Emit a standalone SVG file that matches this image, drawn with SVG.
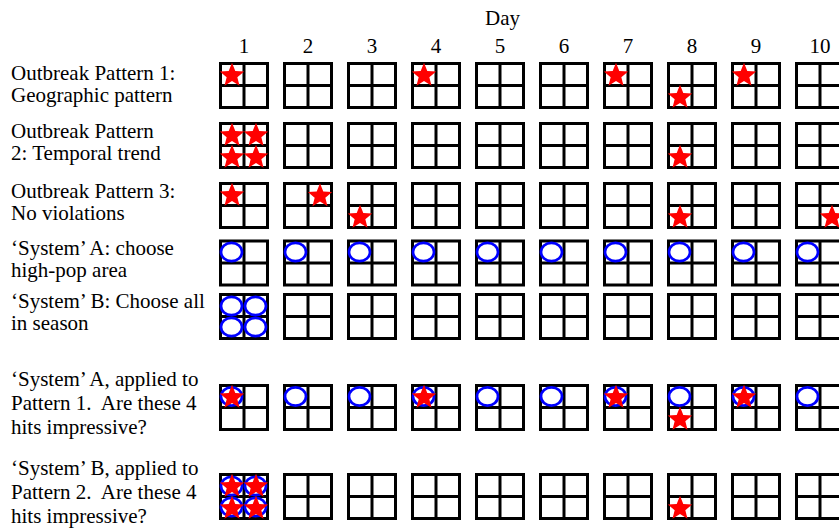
<svg xmlns="http://www.w3.org/2000/svg" xmlns:xlink="http://www.w3.org/1999/xlink" width="839" height="532" viewBox="0 0 839 532">
<style>
text{font-family:"Liberation Serif","Times New Roman",serif;font-size:21px;fill:#000}
.num{text-anchor:middle}
.g{fill:#fff;stroke:#000;stroke-width:3}
.gl{stroke:#000;stroke-width:3}
.star{fill:#f00;stroke:none}
.circ{fill:none;stroke:#00f;stroke-width:2.7}
</style>
<defs>
<g id="grid"><rect class="g" x="0" y="0" width="47" height="44"/><line class="gl" x1="23.5" y1="0" x2="23.5" y2="44"/><line class="gl" x1="0" y1="22" x2="47" y2="22"/></g>
<path id="star" class="star" d="M0,-12.8 L3.29,-4.53 L12.17,-3.96 L5.33,1.73 L7.52,10.36 L0,5.6 L-7.52,10.36 L-5.33,1.73 L-12.17,-3.96 L-3.29,-4.53 Z"/>
<ellipse id="circ" class="circ" cx="0" cy="0" rx="10.5" ry="9.2"/>
</defs>
<rect width="839" height="532" fill="#fff"/>
<g id="header">
<text class="num" x="502.5" y="25">Day</text>
<text class="num" x="244" y="53">1</text>
<text class="num" x="308" y="53">2</text>
<text class="num" x="372" y="53">3</text>
<text class="num" x="436" y="53">4</text>
<text class="num" x="500" y="53">5</text>
<text class="num" x="564" y="53">6</text>
<text class="num" x="628" y="53">7</text>
<text class="num" x="692" y="53">8</text>
<text class="num" x="756" y="53">9</text>
<text class="num" x="820" y="53">10</text>
</g>
<g id="labels">
<text x="11" y="80">Outbreak Pattern 1:</text>
<text x="11" y="102">Geographic pattern</text>
<text x="11" y="138">Outbreak Pattern</text>
<text x="11" y="160">2: Temporal trend</text>
<text x="11" y="198">Outbreak Pattern 3:</text>
<text x="11" y="220">No violations</text>
<text x="11" y="255">‘System’ A: choose</text>
<text x="11" y="277">high-pop area</text>
<text x="11" y="308">‘System’ B: Choose all</text>
<text x="11" y="330">in season</text>
<text x="11" y="386">‘System’ A, applied to</text>
<text x="11" y="410" xml:space="preserve">Pattern 1.  Are these 4</text>
<text x="11" y="434">hits impressive?</text>
<text x="11" y="475">‘System’ B, applied to</text>
<text x="11" y="499" xml:space="preserve">Pattern 2.  Are these 4</text>
<text x="11" y="523">hits impressive?</text>
</g>
<g id="connectors"></g>
<g id="row1">
<use xlink:href="#grid" x="220.5" y="63.5"/><use xlink:href="#grid" x="284.5" y="63.5"/><use xlink:href="#grid" x="348.5" y="63.5"/><use xlink:href="#grid" x="412.5" y="63.5"/><use xlink:href="#grid" x="476.5" y="63.5"/><use xlink:href="#grid" x="540.5" y="63.5"/><use xlink:href="#grid" x="604.5" y="63.5"/><use xlink:href="#grid" x="668.5" y="63.5"/><use xlink:href="#grid" x="732.5" y="63.5"/><use xlink:href="#grid" x="796.5" y="63.5"/>
<use xlink:href="#star" x="232" y="75.5"/><use xlink:href="#star" x="424" y="75.5"/><use xlink:href="#star" x="616" y="75.5"/><use xlink:href="#star" x="680" y="97.5"/><use xlink:href="#star" x="744" y="75.5"/>
</g>
<g id="row2">
<use xlink:href="#grid" x="220.5" y="123.5"/><use xlink:href="#grid" x="284.5" y="123.5"/><use xlink:href="#grid" x="348.5" y="123.5"/><use xlink:href="#grid" x="412.5" y="123.5"/><use xlink:href="#grid" x="476.5" y="123.5"/><use xlink:href="#grid" x="540.5" y="123.5"/><use xlink:href="#grid" x="604.5" y="123.5"/><use xlink:href="#grid" x="668.5" y="123.5"/><use xlink:href="#grid" x="732.5" y="123.5"/><use xlink:href="#grid" x="796.5" y="123.5"/>
<use xlink:href="#star" x="232" y="135.5"/><use xlink:href="#star" x="256" y="135.5"/><use xlink:href="#star" x="232" y="157.5"/><use xlink:href="#star" x="256" y="157.5"/><use xlink:href="#star" x="680" y="157.5"/>
</g>
<g id="row3">
<use xlink:href="#grid" x="220.5" y="183.5"/><use xlink:href="#grid" x="284.5" y="183.5"/><use xlink:href="#grid" x="348.5" y="183.5"/><use xlink:href="#grid" x="412.5" y="183.5"/><use xlink:href="#grid" x="476.5" y="183.5"/><use xlink:href="#grid" x="540.5" y="183.5"/><use xlink:href="#grid" x="604.5" y="183.5"/><use xlink:href="#grid" x="668.5" y="183.5"/><use xlink:href="#grid" x="732.5" y="183.5"/><use xlink:href="#grid" x="796.5" y="183.5"/>
<use xlink:href="#star" x="232" y="195.5"/><use xlink:href="#star" x="320" y="196"/><use xlink:href="#star" x="360" y="217.5"/><use xlink:href="#star" x="680" y="217.5"/><use xlink:href="#star" x="832" y="217.5"/>
</g>
<g id="row4">
<use xlink:href="#grid" x="220.5" y="241"/><use xlink:href="#grid" x="284.5" y="241"/><use xlink:href="#grid" x="348.5" y="241"/><use xlink:href="#grid" x="412.5" y="241"/><use xlink:href="#grid" x="476.5" y="241"/><use xlink:href="#grid" x="540.5" y="241"/><use xlink:href="#grid" x="604.5" y="241"/><use xlink:href="#grid" x="668.5" y="241"/><use xlink:href="#grid" x="732.5" y="241"/><use xlink:href="#grid" x="796.5" y="241"/>
<use xlink:href="#circ" x="231.5" y="252"/><use xlink:href="#circ" x="295.5" y="252"/><use xlink:href="#circ" x="359.5" y="252"/><use xlink:href="#circ" x="423.5" y="252"/><use xlink:href="#circ" x="487.5" y="252"/><use xlink:href="#circ" x="551.5" y="252"/><use xlink:href="#circ" x="615.5" y="252"/><use xlink:href="#circ" x="679.5" y="252"/><use xlink:href="#circ" x="743.5" y="252"/><use xlink:href="#circ" x="807.5" y="252"/>
</g>
<g id="row5">
<use xlink:href="#grid" x="220.5" y="294.5"/><use xlink:href="#grid" x="284.5" y="294.5"/><use xlink:href="#grid" x="348.5" y="294.5"/><use xlink:href="#grid" x="412.5" y="294.5"/><use xlink:href="#grid" x="476.5" y="294.5"/><use xlink:href="#grid" x="540.5" y="294.5"/><use xlink:href="#grid" x="604.5" y="294.5"/><use xlink:href="#grid" x="668.5" y="294.5"/><use xlink:href="#grid" x="732.5" y="294.5"/><use xlink:href="#grid" x="796.5" y="294.5"/>
<use xlink:href="#circ" x="231.5" y="306"/><use xlink:href="#circ" x="255.5" y="306"/><use xlink:href="#circ" x="231.5" y="327"/><use xlink:href="#circ" x="255.5" y="327"/>
</g>
<g id="row6">
<use xlink:href="#grid" x="220.5" y="385.5"/><use xlink:href="#grid" x="284.5" y="385.5"/><use xlink:href="#grid" x="348.5" y="385.5"/><use xlink:href="#grid" x="412.5" y="385.5"/><use xlink:href="#grid" x="476.5" y="385.5"/><use xlink:href="#grid" x="540.5" y="385.5"/><use xlink:href="#grid" x="604.5" y="385.5"/><use xlink:href="#grid" x="668.5" y="385.5"/><use xlink:href="#grid" x="732.5" y="385.5"/><use xlink:href="#grid" x="796.5" y="385.5"/>
<use xlink:href="#circ" x="231.5" y="396.5"/><use xlink:href="#circ" x="295.5" y="396.5"/><use xlink:href="#circ" x="359.5" y="396.5"/><use xlink:href="#circ" x="423.5" y="396.5"/><use xlink:href="#circ" x="487.5" y="396.5"/><use xlink:href="#circ" x="551.5" y="396.5"/><use xlink:href="#circ" x="615.5" y="396.5"/><use xlink:href="#circ" x="679.5" y="396.5"/><use xlink:href="#circ" x="743.5" y="396.5"/><use xlink:href="#circ" x="807.5" y="396.5"/>
<use xlink:href="#star" x="232" y="397.5"/><use xlink:href="#star" x="424" y="397.5"/><use xlink:href="#star" x="616" y="397.5"/><use xlink:href="#star" x="680" y="419.5"/><use xlink:href="#star" x="744" y="397.5"/>
</g>
<g id="row7">
<use xlink:href="#grid" x="220.5" y="474.5"/><use xlink:href="#grid" x="284.5" y="474.5"/><use xlink:href="#grid" x="348.5" y="474.5"/><use xlink:href="#grid" x="412.5" y="474.5"/><use xlink:href="#grid" x="476.5" y="474.5"/><use xlink:href="#grid" x="540.5" y="474.5"/><use xlink:href="#grid" x="604.5" y="474.5"/><use xlink:href="#grid" x="668.5" y="474.5"/><use xlink:href="#grid" x="732.5" y="474.5"/><use xlink:href="#grid" x="796.5" y="474.5"/>
<use xlink:href="#circ" x="231.5" y="486"/><use xlink:href="#circ" x="255.5" y="486"/><use xlink:href="#circ" x="231.5" y="507"/><use xlink:href="#circ" x="255.5" y="507"/>
<use xlink:href="#star" x="232" y="486.5"/><use xlink:href="#star" x="256" y="486.5"/><use xlink:href="#star" x="232" y="508.5"/><use xlink:href="#star" x="256" y="508.5"/><use xlink:href="#star" x="680" y="508.5"/>
</g>
</svg>
